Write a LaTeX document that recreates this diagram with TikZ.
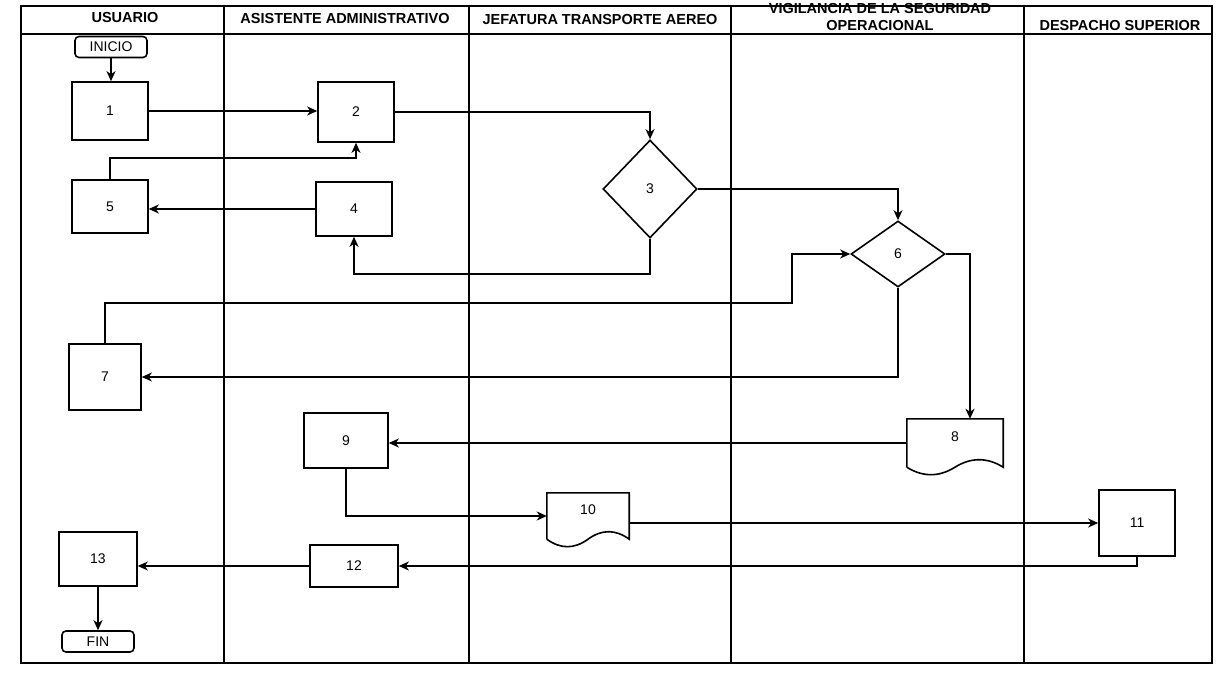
\documentclass[tikz,border=0pt]{standalone}
\usepackage{fontspec}
\setmainfont{Liberation Sans}
\usetikzlibrary{positioning,arrows.meta,shapes.geometric,calc}

\begin{document}
\begin{tikzpicture}[x=1pt,y=-1pt,
    every node/.style={font=\fontsize{14}{16}\selectfont},
    proc/.style={draw, line width=1.6pt, inner sep=0pt},
    term/.style={draw, line width=1.6pt, rounded corners=4pt, inner sep=0pt,
        minimum width=72pt, minimum height=21pt, font=\fontsize{14}{16}\selectfont},
    decis/.style={draw, diamond, aspect=1, line width=1.6pt, inner sep=0pt},
    docu/.style={inner sep=0pt, text depth=12pt},
    lanehead/.style={font=\bfseries\fontsize{14.5}{17}\selectfont, align=center},
    flow/.style={-{Stealth[length=10pt,width=9pt,inset=3pt]}, line width=1.7pt},
    frame/.style={line width=1.7pt}]
\useasboundingbox (0,0) rectangle (1230,684);

% lanes
\draw[frame] (21,6) rectangle (1212,663);
\draw[frame] (21,34) -- (1212,34);
\foreach \x in {224,469,731,1024}
    \draw[frame] (\x,6) -- (\x,663);

\foreach \x/\y/\t [count=\i] in {125/18/USUARIO, 345/19/ASISTENTE ADMINISTRATIVO,
    600/20/JEFATURA TRANSPORTE AEREO, 1120/26/DESPACHO SUPERIOR}
    \node[lanehead] (lane\i) at (\x,\y) {\t};
\node[lanehead] (lanevig) at (880,17) {VIGILANCIA DE LA SEGURIDAD\\OPERACIONAL};

% steps
\node[term] (inicio) at (111,47) {INICIO};
\node[proc, minimum width=76pt, minimum height=58pt] (b1) at (110,111) {1};
\node[proc, minimum width=76pt, minimum height=60pt] (b2) at (356,112) {2};
\node[decis, minimum width=94pt, minimum height=98pt] (d3) at (650,189) {3};
\node[proc, minimum width=76pt, minimum height=54pt] (b4) at (354,209) {4};
\node[proc, minimum width=76pt, minimum height=53pt] (b5) at (110,206.5) {5};
\node[decis, minimum width=94pt, minimum height=66pt] (d6) at (898,254) {6};
\node[proc, minimum width=72pt, minimum height=66pt] (b7) at (105,377) {7};
\node[docu, minimum width=96pt, minimum height=48pt] (d8) at (955,443) {8};
\node[proc, minimum width=84pt, minimum height=55pt] (b9) at (346,440.5) {9};
\node[docu, minimum width=82pt, minimum height=46pt] (d10) at (588,516) {10};
\node[proc, minimum width=76pt, minimum height=66pt] (b11) at (1137,523) {11};
\node[proc, minimum width=88pt, minimum height=42pt] (b12) at (354,566) {12};
\node[proc, minimum width=78pt, minimum height=54pt] (b13) at (98,559) {13};
\node[term] (fin) at (98,641.5) {FIN};

% document outlines
\foreach \d in {d8,d10}
    \draw[line width=1.6pt] let \p1=(\d.south west), \p2=(\d.south east) in
        (\d.south west) -- (\d.north west) -- (\d.north east) -- (\d.south east)
        .. controls ({\x2-(\x2-\x1)/6},{\y2+10pt}) and ({\x2-(\x2-\x1)/3},{\y2+10pt})
        .. ({(\x1+\x2)/2},\y2)
        .. controls ({\x1+(\x2-\x1)/3},{\y2-10pt}) and ({\x1+(\x2-\x1)/6},{\y2-10pt})
        .. (\d.south west);

\coordinate (c76) at (792,303);
\coordinate (c68) at (970,254);

% connectors
\draw[flow] (inicio.south) -- (inicio.south |- b1.north);
\draw[flow] (b1.east) -- (b1.east -| b2.west);
\draw[flow] (b2.east) -| (d3.north);
\draw[flow] (b5.north) -- ++(0,-21) -| (b2.south);
\draw[flow] (b4.west) -- (b4.west -| b5.east);
\draw[flow] (d3.south) -- ++(0,35) -| (b4.south);
\draw[flow] (d3.east) -| (d6.north);
\draw[flow] (b7.north) |- (c76) |- (d6.west);
\draw[flow] (d6.south) |- (b7.east);
\draw[flow] (d6.east) -- (c68) -- (c68 |- d8.north);
\draw[flow] (d8.west) -- (d8.west -| b9.east);
\draw[flow] (b9.south) |- (d10.west);
\draw[flow] (b11.west -| d10.east) -- (b11.west);
\draw[flow] (b11.south) |- (b12.east);
\draw[flow] (b12.west) -- (b12.west -| b13.east);
\draw[flow] (b13.south) -- (b13.south |- fin.north);

\end{tikzpicture}
\end{document}
